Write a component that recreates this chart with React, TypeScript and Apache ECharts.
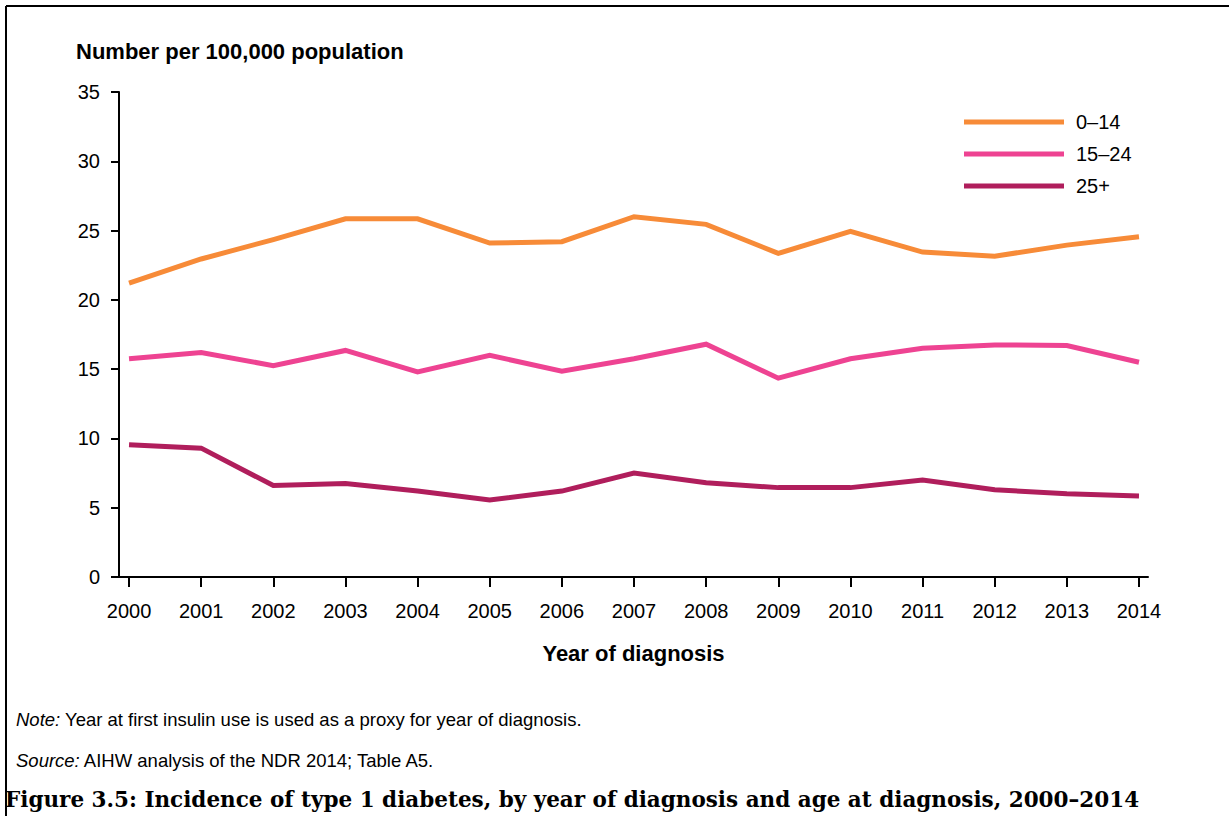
import React, { useEffect, useRef } from "react";
import * as echarts from "echarts";

const years = [2000, 2001, 2002, 2003, 2004, 2005, 2006, 2007, 2008, 2009, 2010, 2011, 2012, 2013, 2014];
const age0to14 = [21.2, 22.95, 24.35, 25.85, 25.85, 24.1, 24.2, 26.0, 25.45, 23.35, 24.95, 23.45, 23.15, 23.95, 24.55];
const age15to24 = [15.75, 16.2, 15.25, 16.35, 14.8, 16.0, 14.85, 15.75, 16.8, 14.35, 15.75, 16.5, 16.75, 16.7, 15.5];
const age25plus = [9.55, 9.3, 6.6, 6.75, 6.2, 5.55, 6.2, 7.5, 6.8, 6.45, 6.45, 7.0, 6.3, 6.0, 5.85];
const seriesNames = ["0–14", "15–24", "25+"];
const colors = ["#F78B38", "#EE4392", "#B01E5C"];
const yTicks = [0, 5, 10, 15, 20, 25, 30, 35];

export default function App() {
  const ref = useRef<HTMLDivElement>(null);
  useEffect(() => {
    if (!ref.current) return;
    const chart = echarts.init(ref.current, null, { renderer: "svg" });
    const font = "'Liberation Sans', Arial, sans-serif";
    const mk = (vals: number[]) => years.map((y, i) => [y, vals[i]]);
    const dataSets = [age0to14, age15to24, age25plus];
    chart.setOption({
      animation: false,
      backgroundColor: "#ffffff",
      textStyle: { fontFamily: font },
      grid: { left: 119, right: 81, top: 92, bottom: 239, containLabel: false },
      legend: {
        orient: "vertical",
        left: 959,
        top: 107,
        icon: "rect",
        itemWidth: 100,
        itemHeight: 5,
        itemGap: 12,
        data: seriesNames,
        textStyle: { fontSize: 20, color: "#000", fontFamily: font, lineHeight: 20, padding: [0, 0, 0, 7] },
      },
      xAxis: {
        type: "value",
        min: 1999.861,
        max: 2014.125,
        name: "Year of diagnosis",
        nameLocation: "middle",
        nameGap: 65,
        nameTextStyle: { fontSize: 22, fontWeight: "bold", color: "#000", fontFamily: font },
        axisLine: { show: true, lineStyle: { color: "#000", width: 2 } },
        axisTick: { show: true, length: 10, lineStyle: { color: "#000", width: 2 }, customValues: years },
        axisLabel: { color: "#000", fontSize: 20, margin: 24, customValues: years, formatter: (v: number) => String(v) },
        splitLine: { show: false },
      },
      yAxis: {
        type: "value",
        min: 0,
        max: 35,
        interval: 5,
        axisLine: { show: true, lineStyle: { color: "#000", width: 2 } },
        axisTick: { show: true, length: 8, lineStyle: { color: "#000", width: 2 } },
        axisLabel: { color: "#000", fontSize: 20, margin: 19, customValues: yTicks },
        splitLine: { show: false },
      },
      series: seriesNames.map((n, i) => ({
        name: n,
        type: "line",
        data: mk(dataSets[i]),
        showSymbol: false,
        symbol: "none",
        lineStyle: { color: colors[i], width: 5, cap: "butt", join: "miter" },
        itemStyle: { color: colors[i] },
      })),
      graphic: [
        { type: "line", shape: { x1: 6, y1: 6, x2: 1229, y2: 6 }, style: { stroke: "#000", lineWidth: 2 } },
        { type: "line", shape: { x1: 6, y1: 6, x2: 6, y2: 816 }, style: { stroke: "#000", lineWidth: 2 } },
        {
          type: "text",
          left: 76,
          top: 40,
          style: { text: "Number per 100,000 population", fontSize: 22, fontWeight: "bold", fill: "#000", fontFamily: font },
        },
        {
          type: "text",
          left: 16,
          top: 710,
          style: {
            text: "{i|Note:} Year at first insulin use is used as a proxy for year of diagnosis.",
            fontSize: 18.5,
            fill: "#000",
            fontFamily: font,
            rich: { i: { fontStyle: "italic", fontSize: 18.5, fontFamily: font, fill: "#000" } },
          },
        },
        {
          type: "text",
          left: 16,
          top: 751,
          style: {
            text: "{i|Source:} AIHW analysis of the NDR 2014; Table A5.",
            fontSize: 18.5,
            fill: "#000",
            fontFamily: font,
            rich: { i: { fontStyle: "italic", fontSize: 18.5, fontFamily: font, fill: "#000" } },
          },
        },
        {
          type: "text",
          left: 5,
          top: 788,
          style: {
            text: "Figure 3.5: Incidence of type 1 diabetes, by year of diagnosis and age at diagnosis, 2000–2014",
            fontSize: 21.5,
            fontWeight: "bold",
            fill: "#000",
            fontFamily: "'DejaVu Serif', 'Liberation Serif', serif",
          },
        },
      ],
    });
    return () => chart.dispose();
  }, []);
  return <div ref={ref} style={{ position: "fixed", left: 0, top: 0, width: 1229, height: 816 }} />;
}
